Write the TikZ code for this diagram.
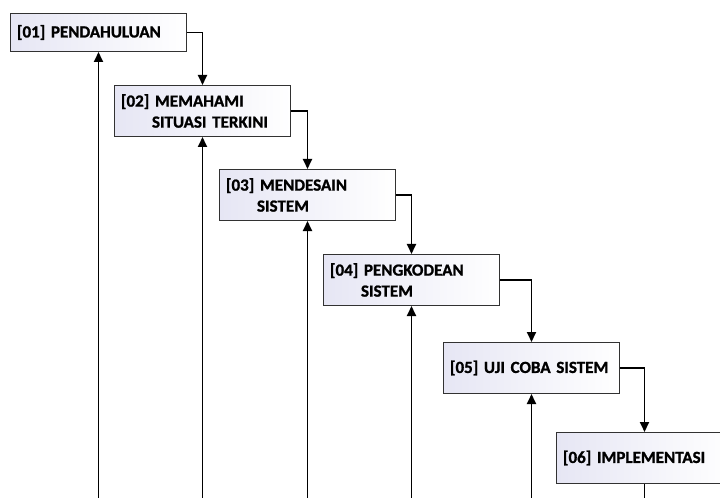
\documentclass[tikz,border=0pt]{standalone}
\usepackage{fontspec}
\setmainfont{Carlito}[BoldFeatures={FakeBold=1.2}]
\usepackage{tikz}
\usetikzlibrary{arrows.meta}
\usetikzlibrary{calc}

\definecolor{boxleft}{RGB}{230,230,244}
\definecolor{boxline}{RGB}{50,50,50}

\begin{document}
\begin{tikzpicture}[x=1bp, y=-1bp,
  stage/.style={draw=boxline, line width=1bp, left color=boxleft, right color=white,
    anchor=north west, text width=163bp, inner xsep=6.5bp, inner ysep=0pt,
    minimum height=51bp, align=left,
    font=\fontsize{17bp}{21bp}\selectfont\bfseries},
  flow/.style={line width=1.8bp, -{Triangle[length=10bp,width=9bp]}},
  back/.style={line width=1.8bp, {Triangle[length=10bp,width=9bp]}-}]

%---------------------------------------
% Frame
%---------------------------------------
\useasboundingbox (0,0) rectangle (720,498);
\clip (0,0) rectangle (720,498);
\coordinate (base) at (0,498);

%---------------------------------------
% Stages
%---------------------------------------
\node[stage, minimum height=38bp] (s1) at (10,13) {[01] PENDAHULUAN};
\node[stage] (s2) at (114,85)  {[02] MEMAHAMI\\\hspace*{31bp}SITUASI TERKINI};
\node[stage] (s3) at (219,169) {[03] MENDESAIN\\\hspace*{31bp}SISTEM};
\node[stage] (s4) at (323,254) {[04] PENGKODEAN\\\hspace*{31bp}SISTEM};
\node[stage] (s5) at (443,342) {[05] UJI COBA SISTEM};
\node[stage] (s6) at (556,432) {[06] IMPLEMENTASI};

%---------------------------------------
% Forward flow
%---------------------------------------
\foreach \a/\b in {s1/s2, s2/s3, s3/s4, s4/s5, s5/s6}
  \draw[flow] (\a.east) -| (\b.north);

%---------------------------------------
% Feedback lines
%---------------------------------------
\foreach \a in {s1, s2, s3, s4, s5}
  \draw[back] (\a.south) -- (\a.south |- base);
\draw[line width=1.8bp] (s6.south) -- (s6.south |- base);

\end{tikzpicture}
\end{document}
